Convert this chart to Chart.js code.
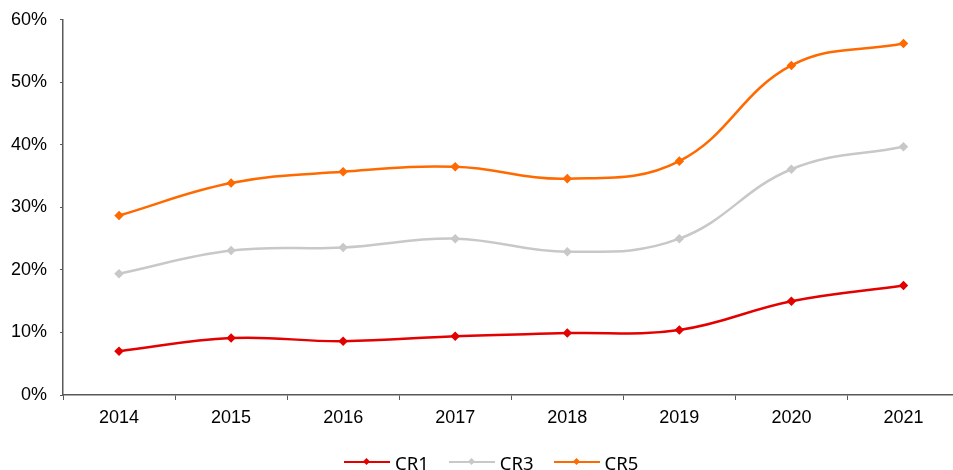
<!DOCTYPE html>
<html>
<head>
<meta charset="utf-8">
<script src="https://cdn.jsdelivr.net/npm/chart.js@4/dist/chart.umd.min.js"></script>
<style>
  html, body { margin:0; padding:0; background:#fff; overflow:hidden; }
  #wrap { position:relative; width:953px; height:470px; overflow:hidden; }
  #c { position:absolute; left:0; top:-4px; }
  #legend { position:absolute; left:344px; top:450px; height:24px; display:flex; align-items:center;
            font-family:"Noto Sans","Open Sans",sans-serif; font-size:18.5px; color:#000; }
  .item { display:flex; align-items:center; margin-right:20px; }
  .sw { position:relative; width:46px; height:2.5px; margin-right:5px; }
  .dia { position:absolute; left:20px; top:-2.25px; width:5px; height:5px; transform:rotate(45deg); }
</style>
</head>
<body>
<div id="wrap">
  <canvas id="c" width="965" height="474"></canvas>
  <div id="legend"></div>
</div>
<script>
const categories = ["2014","2015","2016","2017","2018","2019","2020","2021"];
const cr1 = [7.0, 9.1, 8.6, 9.4, 9.9, 10.4, 15.0, 17.5];
const cr3 = [19.4, 23.1, 23.6, 25.0, 22.9, 25.0, 36.1, 39.7];
const cr5 = [28.7, 33.9, 35.7, 36.5, 34.6, 37.4, 52.7, 56.2];
const seriesNames = ["CR1","CR3","CR5"];
const colors = ["#E30000","#C8C8C8","#FF6A00"];
const values = [cr1, cr3, cr5];

const datasets = seriesNames.map((n,i)=>({
  label:n, data:values[i], borderColor:colors[i], backgroundColor:colors[i],
  borderWidth:2.5, pointStyle:'rectRot', pointRadius:3, pointHoverRadius:3,
  tension:0.4, cubicInterpolationMode:'default', fill:false
}));

new Chart(document.getElementById('c'), {
  type:'line',
  data:{ labels:categories, datasets },
  options:{
    responsive:false, animation:false,
    layout:{ padding:{ top:15, right:2, bottom:35, left:0 } },
    plugins:{ legend:{display:false}, tooltip:{enabled:false} },
    scales:{
      x:{
        offset:true,
        grid:{ display:true, offset:true, drawOnChartArea:false, tickLength:5, color:'#595959', lineWidth:1 },
        border:{ display:true, color:'#595959', width:1.5 },
        ticks:{ color:'#000', font:{ family:'"Liberation Sans", Arial, sans-serif', size:18 }, padding:7, maxRotation:0 },
        afterFit:(s)=>{ s.height = 40; }
      },
      y:{
        min:0, max:60,
        grid:{ display:true, drawOnChartArea:false, tickLength:3, color:'#595959' },
        border:{ display:true, color:'#595959', width:1.5 },
        ticks:{ stepSize:10, color:'#000', font:{ family:'"Liberation Sans", Arial, sans-serif', size:18 }, padding:13,
                callback:(v)=>v+'%' },
        afterFit:(s)=>{ s.width = 63; }
      }
    }
  }
});

const lg = document.getElementById('legend');
seriesNames.forEach((n,i)=>{
  const it = document.createElement('div'); it.className='item';
  const sw = document.createElement('div'); sw.className='sw'; sw.style.background=colors[i];
  const d = document.createElement('div'); d.className='dia'; d.style.background=colors[i];
  sw.appendChild(d);
  const t = document.createElement('span'); t.textContent=n;
  it.appendChild(sw); it.appendChild(t); lg.appendChild(it);
});
</script>
</body>
</html>
